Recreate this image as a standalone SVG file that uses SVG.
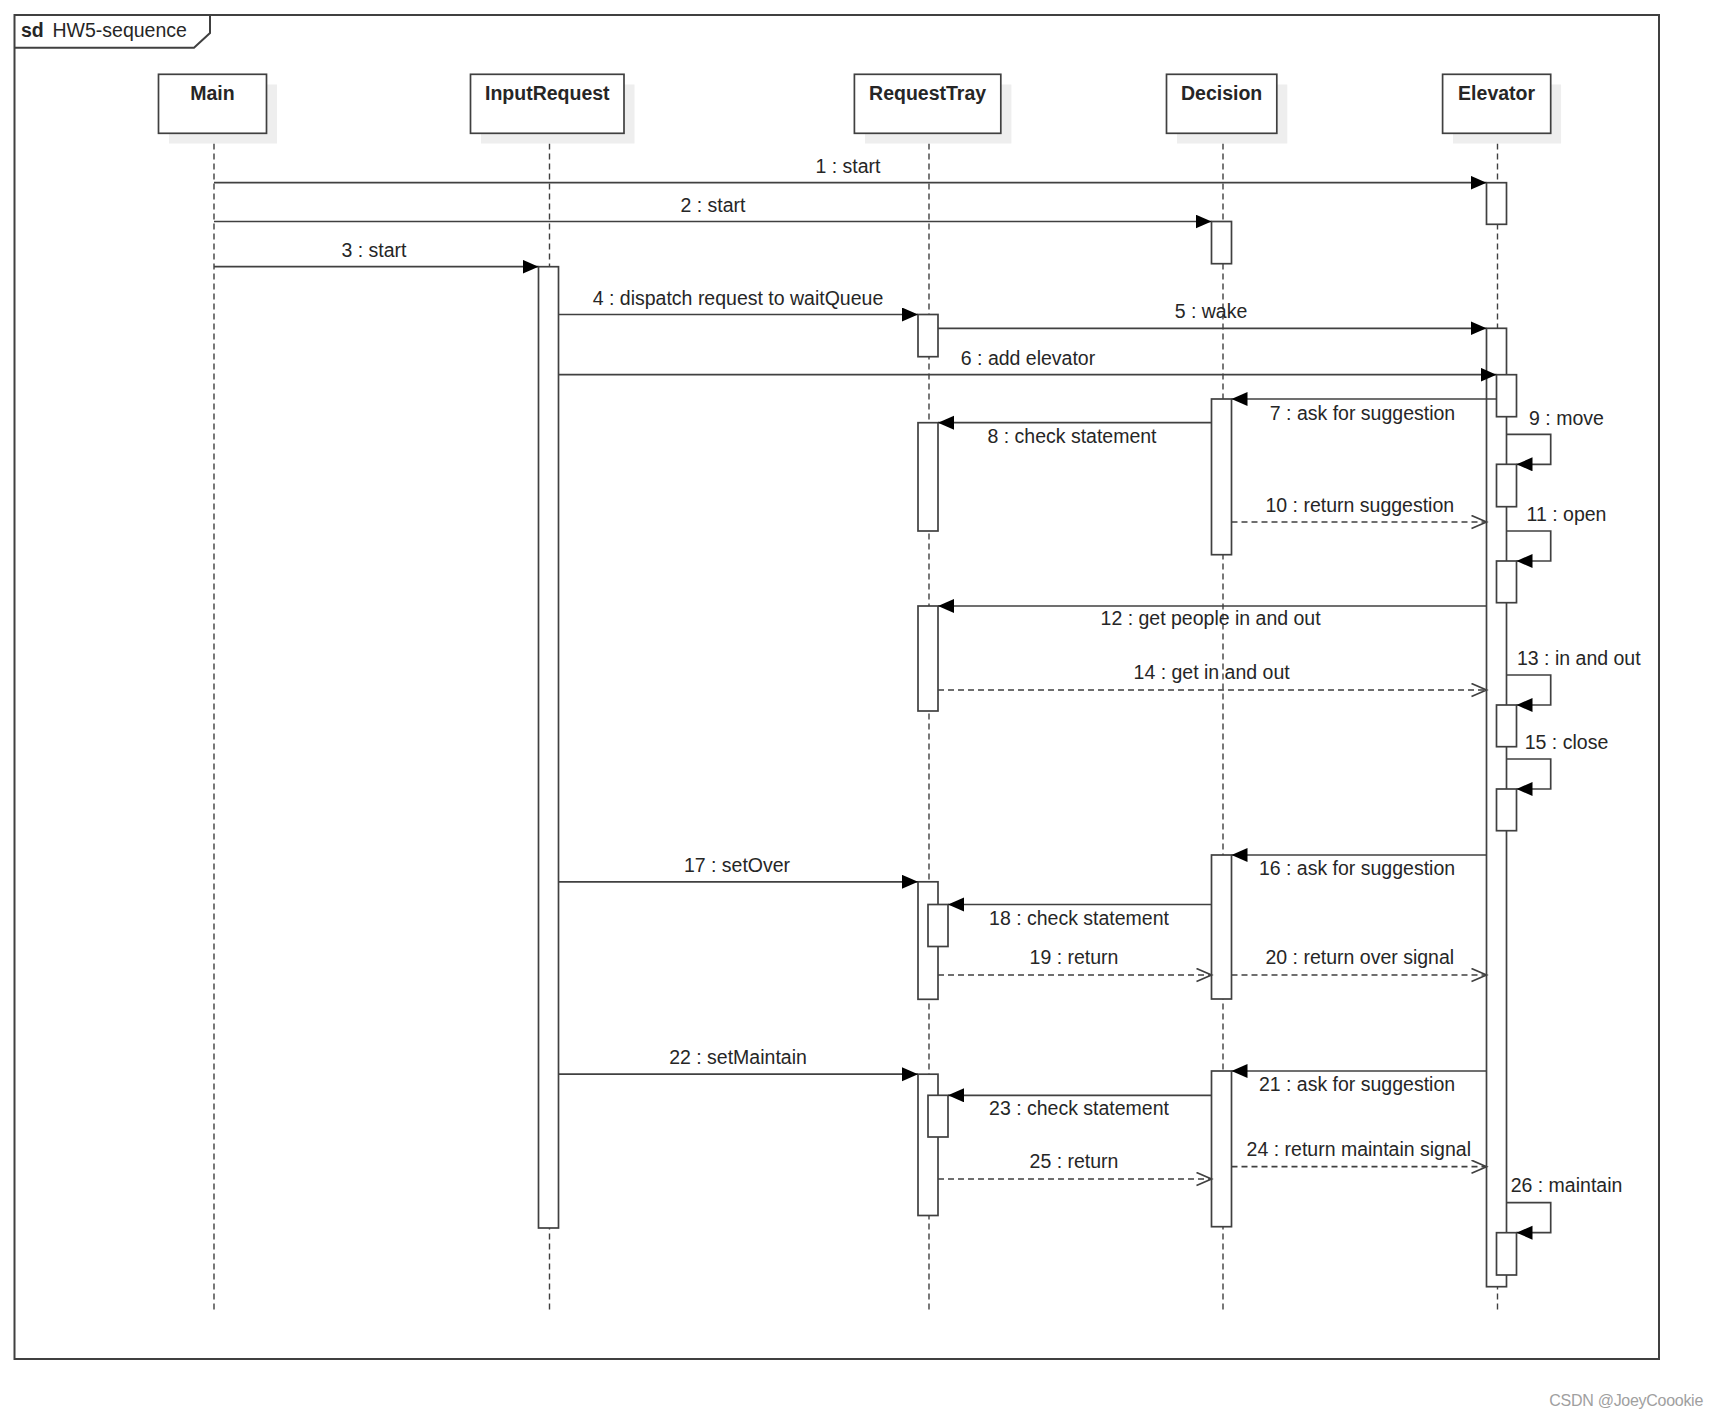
<svg xmlns="http://www.w3.org/2000/svg" width="1719" height="1419" viewBox="0 0 1719 1419">
<style>
.frame{fill:none;stroke:#404040;stroke-width:2}
.box{fill:#fff;stroke:#404040;stroke-width:1.7}
.shadow{fill:#eeeeee;stroke:none}
.act{fill:#fff;stroke:#404040;stroke-width:1.7}
.life{stroke:#404040;stroke-width:1.4;stroke-dasharray:6 4;fill:none}
.msg{stroke:#404040;stroke-width:1.7;fill:none;marker-end:url(#filled)}
.ret{stroke:#404040;stroke-width:1.7;fill:none;stroke-dasharray:6 4;marker-end:url(#open)}
text{font-family:"Liberation Sans",Arial,sans-serif;font-size:19.5px;fill:#262626}
.head{font-weight:bold;text-anchor:middle}
.lbl{text-anchor:middle}
</style>
<defs>
<marker id="filled" markerUnits="userSpaceOnUse" markerWidth="18" markerHeight="16" refX="16" refY="7" orient="auto">
<path d="M0,0 L16,7 L0,14 z" fill="#000"/>
</marker>
<marker id="open" markerUnits="userSpaceOnUse" markerWidth="18" markerHeight="16" refX="16" refY="7" orient="auto">
<path d="M1,0.5 L16,7 L1,13.5" fill="none" stroke="#404040" stroke-width="1.7"/>
</marker>
</defs>
<rect width="1719" height="1419" fill="#fff"/>
<g id="frame">
<rect class="frame" x="14.5" y="15" width="1644.5" height="1344"/>
<path class="frame" d="M14.5,47.7 H194 L210,33 V15"/>
<text x="21" y="36.5" font-weight="bold">sd</text>
<text x="52.5" y="36.5">HW5-sequence</text>
</g>
<g id="lifelines">
<line class="life" x1="214" y1="133.5" x2="214" y2="1311"/>
<line class="life" x1="549.5" y1="133.5" x2="549.5" y2="1311"/>
<line class="life" x1="929" y1="133.5" x2="929" y2="1311"/>
<line class="life" x1="1223" y1="133.5" x2="1223" y2="1311"/>
<line class="life" x1="1497.5" y1="133.5" x2="1497.5" y2="1311"/>
</g>
<g id="Main">
<rect class="shadow" x="169" y="84.5" width="108" height="59"/>
<rect class="box" x="158.5" y="74.3" width="108" height="59"/>
<text class="head" x="212.5" y="99.5">Main</text>
</g>
<g id="InputRequest">
<rect class="shadow" x="481" y="84.5" width="153.5" height="59"/>
<rect class="box" x="470.5" y="74.3" width="153.5" height="59"/>
<text class="head" x="547.3" y="99.5">InputRequest</text>
</g>
<g id="RequestTray">
<rect class="shadow" x="865" y="84.5" width="146.4" height="59"/>
<rect class="box" x="854.4" y="74.3" width="146.4" height="59"/>
<text class="head" x="927.6" y="99.5">RequestTray</text>
</g>
<g id="Decision">
<rect class="shadow" x="1177" y="84.5" width="110.3" height="59"/>
<rect class="box" x="1166.5" y="74.3" width="110.3" height="59"/>
<text class="head" x="1221.6" y="99.5">Decision</text>
</g>
<g id="Elevator">
<rect class="shadow" x="1453" y="84.5" width="108.1" height="59"/>
<rect class="box" x="1442.6" y="74.3" width="108.1" height="59"/>
<text class="head" x="1496.6" y="99.5">Elevator</text>
</g>
<g id="activations">
<rect class="act" x="538.5" y="266.7" width="20" height="961.3"/>
<rect class="act" x="1486.5" y="182.7" width="20" height="41.6"/>
<rect class="act" x="1486.5" y="328.3" width="20" height="958.4"/>
<rect class="act" x="1496.5" y="374.7" width="20" height="42"/>
<rect class="act" x="1496.5" y="464.3" width="20" height="42.4"/>
<rect class="act" x="1496.5" y="561" width="20" height="41.7"/>
<rect class="act" x="1496.5" y="705" width="20" height="41.7"/>
<rect class="act" x="1496.5" y="789" width="20" height="41.7"/>
<rect class="act" x="1496.5" y="1232.7" width="20" height="42.3"/>
<rect class="act" x="1211.5" y="221.5" width="20" height="42.2"/>
<rect class="act" x="1211.5" y="399" width="20" height="155.7"/>
<rect class="act" x="1211.5" y="855" width="20" height="144"/>
<rect class="act" x="1211.5" y="1071" width="20" height="155.7"/>
<rect class="act" x="918" y="314.5" width="20" height="42.2"/>
<rect class="act" x="918" y="422.7" width="20" height="108.3"/>
<rect class="act" x="918" y="606" width="20" height="105"/>
<rect class="act" x="918" y="881.8" width="20" height="117.5"/>
<rect class="act" x="928" y="904.5" width="20" height="42"/>
<rect class="act" x="918" y="1074.2" width="20" height="141.3"/>
<rect class="act" x="928" y="1095.3" width="20" height="41.7"/>
</g>
<g id="connectors">
<line class="msg" x1="214" y1="182.7" x2="1486.5" y2="182.7"/>
<line class="msg" x1="214" y1="221.5" x2="1211.5" y2="221.5"/>
<line class="msg" x1="214" y1="266.7" x2="538.5" y2="266.7"/>
<line class="msg" x1="558.5" y1="314.5" x2="918" y2="314.5"/>
<line class="msg" x1="938" y1="328.3" x2="1486.5" y2="328.3"/>
<line class="msg" x1="558.5" y1="374.7" x2="1496.5" y2="374.7"/>
<line class="msg" x1="1497" y1="399" x2="1231.5" y2="399"/>
<line class="msg" x1="1211.5" y1="422.7" x2="938" y2="422.7"/>
<path class="msg" d="M1506.5,434.3 H1550.7 V464.3 H1516.5"/>
<line class="ret" x1="1231.5" y1="522" x2="1486.5" y2="522"/>
<path class="msg" d="M1506.5,531 H1550.7 V561 H1516.5"/>
<line class="msg" x1="1486.5" y1="606" x2="938" y2="606"/>
<path class="msg" d="M1506.5,675 H1550.7 V705 H1516.5"/>
<line class="ret" x1="938" y1="690" x2="1486.5" y2="690"/>
<path class="msg" d="M1506.5,759 H1550.7 V789 H1516.5"/>
<line class="msg" x1="1486.5" y1="855" x2="1231.5" y2="855"/>
<line class="msg" x1="558.5" y1="881.8" x2="918" y2="881.8"/>
<line class="msg" x1="1211.5" y1="904.5" x2="948" y2="904.5"/>
<line class="ret" x1="938" y1="975" x2="1211.5" y2="975"/>
<line class="ret" x1="1231.5" y1="975" x2="1486.5" y2="975"/>
<line class="msg" x1="1486.5" y1="1071" x2="1231.5" y2="1071"/>
<line class="msg" x1="558.5" y1="1074.2" x2="918" y2="1074.2"/>
<line class="msg" x1="1211.5" y1="1095.3" x2="948" y2="1095.3"/>
<line class="ret" x1="1231.5" y1="1166.7" x2="1486.5" y2="1166.7"/>
<line class="ret" x1="938" y1="1179" x2="1211.5" y2="1179"/>
<path class="msg" d="M1506.5,1202.7 H1550.7 V1232.7 H1516.5"/>
</g>
<g id="labels">
<text class="lbl" x="848" y="173">1 : start</text>
<text class="lbl" x="713" y="211.5">2 : start</text>
<text class="lbl" x="374" y="257">3 : start</text>
<text class="lbl" x="738" y="305">4 : dispatch request to waitQueue</text>
<text class="lbl" x="1211" y="318">5 : wake</text>
<text class="lbl" x="1028" y="365">6 : add elevator</text>
<text class="lbl" x="1362.5" y="419.5">7 : ask for suggestion</text>
<text class="lbl" x="1072" y="443">8 : check statement</text>
<text class="lbl" x="1566.5" y="425">9 : move</text>
<text class="lbl" x="1359.8" y="512">10 : return suggestion</text>
<text class="lbl" x="1566.5" y="520.7">11 : open</text>
<text class="lbl" x="1210.6" y="625.3">12 : get people in and out</text>
<text x="1517" y="665">13 : in and out</text>
<text class="lbl" x="1211.6" y="679.3">14 : get in and out</text>
<text class="lbl" x="1566.5" y="749.3">15 : close</text>
<text class="lbl" x="1357" y="875.3">16 : ask for suggestion</text>
<text class="lbl" x="737" y="872">17 : setOver</text>
<text class="lbl" x="1079" y="925.3">18 : check statement</text>
<text class="lbl" x="1074" y="964.3">19 : return</text>
<text class="lbl" x="1359.8" y="964.3">20 : return over signal</text>
<text class="lbl" x="1357" y="1091.3">21 : ask for suggestion</text>
<text class="lbl" x="738" y="1064">22 : setMaintain</text>
<text class="lbl" x="1079" y="1115.3">23 : check statement</text>
<text class="lbl" x="1358.8" y="1156">24 : return maintain signal</text>
<text class="lbl" x="1074" y="1168.3">25 : return</text>
<text class="lbl" x="1566.5" y="1192">26 : maintain</text>
</g>
<text x="1549.3" y="1406" font-size="16" textLength="154" style="font-size:16px;fill:#a0a0a0">CSDN @JoeyCoookie</text>
</svg>
